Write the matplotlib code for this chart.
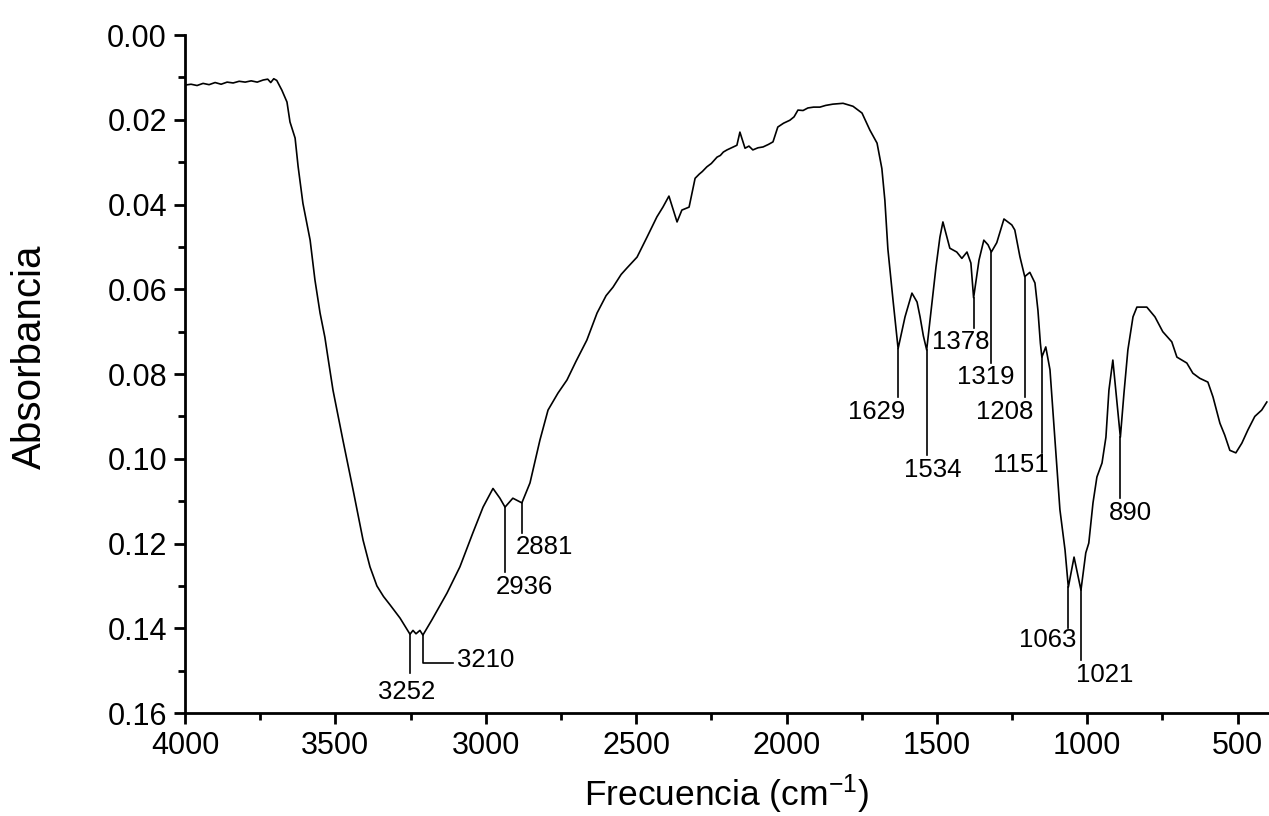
import matplotlib
matplotlib.use("Agg")
import matplotlib.pyplot as plt
import numpy as np

plt.rcParams['font.family'] = ['Liberation Sans', 'DejaVu Sans']
plt.rcParams['mathtext.fontset'] = 'custom'
plt.rcParams['mathtext.rm'] = 'Liberation Sans'
plt.rcParams['mathtext.it'] = 'Liberation Sans'

# ---- spectrum data (wavenumber cm-1, absorbance) ----
wavenumber = [4000, 3980, 3960, 3940, 3920, 3900, 3880, 3860, 3840, 3820, 3800, 3780,
              3760, 3740, 3725, 3715, 3705, 3695, 3678, 3661, 3651, 3634, 3624, 3608,
              3584, 3568, 3551, 3535, 3525, 3508, 3475, 3441, 3408, 3385, 3362, 3340,
              3318, 3285, 3252, 3242, 3232, 3219, 3209, 3179, 3129, 3086, 3043, 3009,
              2976, 2953, 2936, 2910, 2880, 2853, 2820, 2793, 2760, 2730, 2700, 2664,
              2630, 2600, 2577, 2550, 2531, 2497, 2480, 2464, 2431, 2411, 2391, 2364,
              2348, 2324, 2304, 2290, 2280, 2265, 2250, 2231, 2220, 2210, 2198, 2180,
              2165, 2155, 2138, 2125, 2112, 2095, 2078, 2060, 2045, 2029, 2010, 1989,
              1975, 1962, 1945, 1929, 1910, 1889, 1870, 1846, 1812, 1779, 1749, 1723,
              1699, 1683, 1673, 1663, 1646, 1629, 1606, 1583, 1566, 1556, 1545, 1534,
              1503, 1490, 1480, 1457, 1434, 1417, 1400, 1387, 1378, 1360, 1344, 1330,
              1319, 1301, 1277, 1251, 1241, 1224, 1208, 1191, 1174, 1164, 1156, 1151,
              1138, 1124, 1108, 1091, 1074, 1063, 1044, 1021, 1005, 995, 981, 968,
              951, 938, 928, 915, 902, 890, 878, 865, 848, 835, 802, 775, 749, 719,
              702, 669, 649, 626, 599, 582, 559, 543, 526, 506, 486, 466, 443, 420, 403]
absorbance = [0.0118, 0.0116, 0.0119, 0.0114, 0.0117, 0.0112, 0.0116, 0.0111, 0.0113, 0.0109, 0.0111, 0.0108,
              0.0111, 0.0106, 0.0104, 0.0112, 0.0103, 0.0107, 0.0130, 0.0158, 0.0205, 0.0243, 0.0310, 0.0397,
              0.0484, 0.0578, 0.0656, 0.0713, 0.0760, 0.0838, 0.0956, 0.1074, 0.1192, 0.1255, 0.1300, 0.1325,
              0.1345, 0.1376, 0.1414, 0.1405, 0.1413, 0.1405, 0.1416, 0.1380, 0.1317, 0.1255, 0.1175, 0.1114,
              0.1070, 0.1093, 0.1114, 0.1093, 0.1104, 0.1057, 0.0956, 0.0885, 0.0845, 0.0814, 0.0770, 0.0720,
              0.0656, 0.0615, 0.0595, 0.0565, 0.0550, 0.0524, 0.0500, 0.0477, 0.0429, 0.0406, 0.0380, 0.0441,
              0.0413, 0.0406, 0.0338, 0.0328, 0.0322, 0.0311, 0.0303, 0.0288, 0.0284, 0.0276, 0.0271, 0.0265,
              0.0260, 0.0229, 0.0267, 0.0262, 0.0271, 0.0266, 0.0264, 0.0258, 0.0252, 0.0217, 0.0208, 0.0201,
              0.0193, 0.0177, 0.0178, 0.0172, 0.0170, 0.0170, 0.0166, 0.0163, 0.0161,
              0.0168, 0.0184, 0.0224, 0.0255, 0.0315, 0.0390, 0.0505, 0.0625, 0.0740, 0.0665, 0.0609, 0.0630,
              0.0665, 0.0710, 0.0743, 0.0547, 0.0477, 0.0441, 0.0503, 0.0512, 0.0527, 0.0512, 0.0538, 0.0620,
              0.0531, 0.0484, 0.0495, 0.0512, 0.0490, 0.0434, 0.0448, 0.0460, 0.0523, 0.0570, 0.0560, 0.0585,
              0.0650, 0.0727, 0.0760, 0.0736, 0.0790, 0.0949, 0.1120, 0.1215, 0.1303, 0.1232, 0.1310, 0.1222,
              0.1199, 0.1104, 0.1043, 0.1010, 0.0949, 0.0838, 0.0767, 0.0861, 0.0949, 0.0845, 0.0743, 0.0665,
              0.0642, 0.0642, 0.0665, 0.0700, 0.0724, 0.0760, 0.0774, 0.0798, 0.0810, 0.0819, 0.0854, 0.0916,
              0.0944, 0.0980, 0.0986, 0.0963, 0.0932, 0.0900, 0.0885, 0.0866]

# ---- peak labels ----
peak_labels = ["3252", "3210", "2936", "2881", "1629", "1534", "1378",
               "1319", "1208", "1151", "1063", "1021", "890"]

wn = np.array(wavenumber, dtype=float)
ab = np.array(absorbance, dtype=float)

fig = plt.figure(figsize=(12.69, 8.16), dpi=100)
ax = fig.add_axes([0.1458, 0.1262, 0.8532, 0.957 - 0.1262])

ax.plot(wn, ab, color='black', lw=1.2)

ax.set_xlim(4000, 400)
ax.set_ylim(0.16, 0.0)

ax.set_xticks([4000, 3500, 3000, 2500, 2000, 1500, 1000, 500])
ax.set_xticks(np.arange(3750, 400, -500), minor=True)
yt = np.arange(0, 0.161, 0.02)
ax.set_yticks(yt)
ax.set_yticklabels([f"{v:.2f}" for v in yt])
ax.set_yticks(np.arange(0.01, 0.16, 0.02), minor=True)

for s in ['top', 'right']:
    ax.spines[s].set_visible(False)
for s in ['left', 'bottom']:
    ax.spines[s].set_linewidth(2.0)

ax.tick_params(axis='both', which='major', direction='out', length=8, width=2.0,
               labelsize=22, pad=5)
ax.tick_params(axis='both', which='minor', direction='out', length=5, width=2.0)

ax.set_xlabel('Frecuencia (cm$^{-1}$)', fontsize=25.5, labelpad=8)
ax.set_ylabel('Absorbancia', fontsize=29)
ax.yaxis.set_label_coords(-0.126, 0.525)

# annotation layout: (line end y, text x, text y, ha)
layout = {
    "3252": (0.1506, 3262, 0.1550, 'center'),
    "3210": (0.1482, 3096, 0.1475, 'left'),
    "2936": (0.1267, 2870, 0.1303, 'center'),
    "2881": (0.1175, 2806, 0.1208, 'center'),
    "1629": (0.0854, 1699, 0.0890, 'center'),
    "1534": (0.0991, 1513, 0.1027, 'center'),
    "1378": (0.0691, 1420, 0.0724, 'center'),
    "1319": (0.0774, 1337, 0.0807, 'center'),
    "1208": (0.0854, 1274, 0.0890, 'center'),
    "1151": (0.0986, 1221, 0.1015, 'center'),
    "1063": (0.1400, 1131, 0.1428, 'center'),
    "1021": (0.1475, 941, 0.1510, 'center'),
    "890": (0.1093, 858, 0.1128, 'center'),
}

order = np.argsort(wn)
for lab in peak_labels:
    p = float(lab)
    y0 = float(np.interp(p, wn[order], ab[order]))
    yend, tx, ty, ha = layout[lab]
    if lab == "3210":
        ax.plot([p, p, 3109], [y0, yend, yend], color='black', lw=1.2)
    else:
        ax.plot([p, p], [y0, yend], color='black', lw=1.2)
    ax.text(tx, ty, lab, fontsize=18.5, ha=ha, va='center', color='black')

fig.savefig('out.png', dpi=100)
